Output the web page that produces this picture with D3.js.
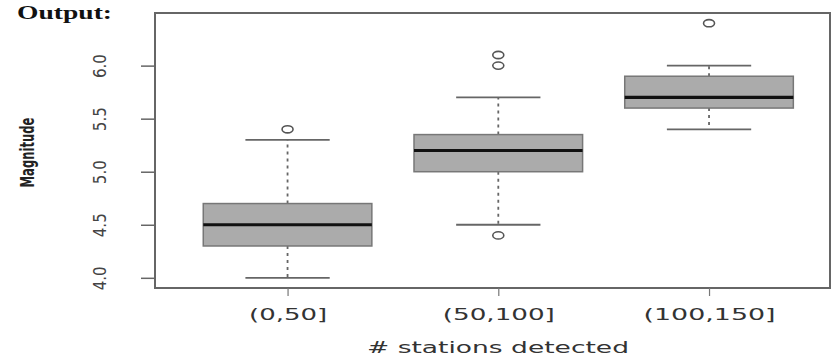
<!DOCTYPE html>
<html>
<head>
<meta charset="utf-8">
<script src="https://cdn.jsdelivr.net/npm/d3@7"></script>
<style>
  html, body { margin: 0; padding: 0; background: #fff; }
  svg { display: block; }
</style>
</head>
<body>
<svg id="chart" width="834" height="358"></svg>
<script>
/* ── Data ── */
const categories = ['(0,50]', '(50,100]', '(100,150]'];
const lowerWhisker = [4.0, 4.5, 5.4];
const q1           = [4.3, 5.0, 5.6];
const medians      = [4.5, 5.2, 5.7];
const q3           = [4.7, 5.35, 5.9];
const upperWhisker = [5.3, 5.7, 6.0];
const outliers     = [[5.4], [4.4, 6.0, 6.1], [6.4]];
const yTicks       = [4.0, 4.5, 5.0, 5.5, 6.0];

/* ── Layout ── */
const FRAME = { left: 155, right: 830, top: 13, bottom: 288 };
const BOX_W = 0.8;      // in x units, like R's boxplot
const STAPLE_W = 0.4;
const LABEL_W = [78, 112, 132];   // stretched tick label widths in the picture

const svg = d3.select('#chart');

// R style: x runs 1..n with padding, y has 4% padding around data range
const x = d3.scaleLinear().domain([0.371, 3.574]).range([FRAME.left, FRAME.right]);
const y = d3.scaleLinear().domain([3.904, 6.496]).range([FRAME.bottom, FRAME.top]);

const boxes = categories.map((c, i) => ({
  cat: c, pos: i + 1,
  lo: lowerWhisker[i], q1: q1[i], med: medians[i], q3: q3[i], hi: upperWhisker[i],
  out: outliers[i]
}));

/* ── Boxes ── */
const g = svg.append('g');

const bx = g.selectAll('.box').data(boxes).join('g').attr('class', 'box');

// dashed whiskers
bx.append('line')
  .attr('x1', d => x(d.pos)).attr('x2', d => x(d.pos))
  .attr('y1', d => y(d.q3)).attr('y2', d => y(d.hi))
  .attr('stroke', '#666').attr('stroke-width', 1.8).attr('stroke-dasharray', '3,4');
bx.append('line')
  .attr('x1', d => x(d.pos)).attr('x2', d => x(d.pos))
  .attr('y1', d => y(d.q1)).attr('y2', d => y(d.lo))
  .attr('stroke', '#666').attr('stroke-width', 1.8).attr('stroke-dasharray', '3,4');

// staples
bx.selectAll('.staple').data(d => [d.lo, d.hi].map(v => ({ v, pos: d.pos })))
  .join('line')
  .attr('x1', d => x(d.pos - STAPLE_W / 2)).attr('x2', d => x(d.pos + STAPLE_W / 2))
  .attr('y1', d => y(d.v)).attr('y2', d => y(d.v))
  .attr('stroke', '#666').attr('stroke-width', 1.8);

// box body
bx.append('rect')
  .attr('x', d => x(d.pos - BOX_W / 2))
  .attr('width', d => x(d.pos + BOX_W / 2) - x(d.pos - BOX_W / 2))
  .attr('y', d => y(d.q3))
  .attr('height', d => y(d.q1) - y(d.q3))
  .attr('fill', '#ababab').attr('stroke', '#777').attr('stroke-width', 1.5);

// median
bx.append('line')
  .attr('x1', d => x(d.pos - BOX_W / 2)).attr('x2', d => x(d.pos + BOX_W / 2))
  .attr('y1', d => y(d.med)).attr('y2', d => y(d.med))
  .attr('stroke', '#111').attr('stroke-width', 3.2);

// outliers
bx.selectAll('.out').data(d => d.out.map(v => ({ v, pos: d.pos })))
  .join('ellipse')
  .attr('cx', d => x(d.pos)).attr('cy', d => y(d.v))
  .attr('rx', 5.5).attr('ry', 3.6)
  .attr('fill', 'none').attr('stroke', '#555').attr('stroke-width', 1.6);

/* ── Frame ── */
svg.append('rect')
  .attr('x', FRAME.left).attr('y', FRAME.top)
  .attr('width', FRAME.right - FRAME.left).attr('height', FRAME.bottom - FRAME.top)
  .attr('fill', 'none').attr('stroke', '#666').attr('stroke-width', 2);

/* ── Y axis ── */
const yAxis = svg.append('g').attr('transform', `translate(${FRAME.left},0)`)
  .call(d3.axisLeft(y).tickValues(yTicks).tickSize(14).tickSizeOuter(0)
    .tickFormat(d3.format('.1f')));
yAxis.select('.domain').remove();
yAxis.selectAll('.tick line').attr('stroke', '#666').attr('stroke-width', 1.5);
yAxis.selectAll('.tick text')
  .attr('x', null).attr('dy', null)
  .attr('transform', 'translate(-55,0) rotate(-90)')
  .attr('text-anchor', 'middle').attr('dy', '0.35em')
  .attr('font-family', 'DejaVu Sans Condensed, Liberation Sans Narrow, sans-serif')
  .attr('font-size', 18).attr('fill', '#444')
  .attr('textLength', 24).attr('lengthAdjust', 'spacingAndGlyphs');

/* ── X axis ── */
const xAxis = svg.append('g').attr('transform', `translate(0,${FRAME.bottom})`)
  .call(d3.axisBottom(x).tickValues(boxes.map(d => d.pos)).tickSize(8).tickSizeOuter(0)
    .tickFormat((d, i) => categories[i]));
xAxis.select('.domain').remove();
xAxis.selectAll('.tick line').attr('stroke', '#777').attr('stroke-width', 1.2);
xAxis.selectAll('.tick text')
  .attr('y', 32).attr('dy', null)
  .attr('font-family', 'DejaVu Sans, sans-serif')
  .attr('font-size', 16).attr('fill', '#333')
  .attr('textLength', (d, i) => LABEL_W[i]).attr('lengthAdjust', 'spacingAndGlyphs');

/* ── Titles ── */
svg.append('text')
  .attr('transform', `translate(34,${(FRAME.top + FRAME.bottom) / 2 + 2}) rotate(-90)`)
  .attr('text-anchor', 'middle')
  .attr('font-family', 'DejaVu Sans Condensed, Liberation Sans Narrow, sans-serif')
  .attr('font-weight', 'bold')
  .attr('font-size', 19).attr('fill', '#222')
  .attr('textLength', 70).attr('lengthAdjust', 'spacingAndGlyphs')
  .text('Magnitude');

svg.append('text')
  .attr('x', 498).attr('y', 353)
  .attr('text-anchor', 'middle')
  .attr('font-family', 'DejaVu Sans, sans-serif')
  .attr('font-size', 15).attr('fill', '#333')
  .attr('textLength', 262).attr('lengthAdjust', 'spacingAndGlyphs')
  .text('# stations detected');

// caption fragment at the top-left of the picture
svg.append('text')
  .attr('x', 17).attr('y', 19)
  .attr('font-family', 'Liberation Serif, serif')
  .attr('font-weight', 'bold')
  .attr('font-size', 19).attr('fill', '#111')
  .attr('textLength', 95).attr('lengthAdjust', 'spacingAndGlyphs')
  .text('Output:');
</script>
</body>
</html>
